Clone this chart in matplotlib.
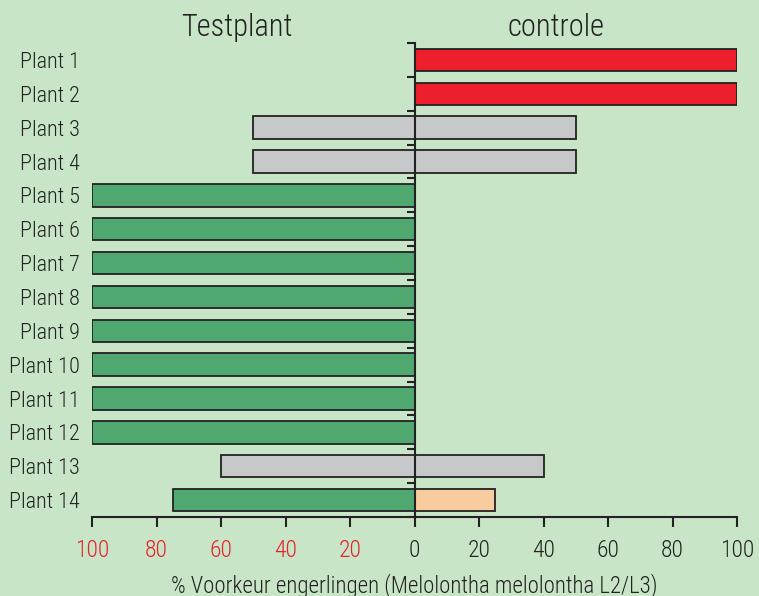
import matplotlib
matplotlib.use("Agg")
import matplotlib.pyplot as plt
from matplotlib.transforms import blended_transform_factory
import numpy as np

categories = [f"Plant {i}" for i in range(1, 15)]
testplant = [0, 0, 50, 50, 100, 100, 100, 100, 100, 100, 100, 100, 60, 75]
controle = [100, 100, 50, 50, 0, 0, 0, 0, 0, 0, 0, 0, 40, 25]
left_colors = ["#ed1f2c", "#ed1f2c", "#c7c8ca", "#c7c8ca"] + ["#4fa86f"] * 8 + ["#c7c8ca", "#4fa86f"]
right_colors = ["#ed1f2c", "#ed1f2c", "#c7c8ca", "#c7c8ca"] + ["#4fa86f"] * 8 + ["#c7c8ca", "#f8cc9f"]
xticks = [-100, -80, -60, -40, -20, 0, 20, 40, 60, 80, 100]
xticklabels = ["100", "80", "60", "40", "20", "0", "20", "40", "60", "80", "100"]

plt.rcParams['font.family'] = ['Roboto Condensed', 'DejaVu Sans']
plt.rcParams['font.weight'] = 'light'
plt.rcParams['axes.labelweight'] = 'light'
BG = "#c9e5c8"
DARK = "#222222"
RED = "#e8202a"

fig = plt.figure(figsize=(7.59, 5.96), dpi=100, facecolor=BG)
rect = [92/759, 1-517/596, (737-92)/759, (517-43)/596]
ax = fig.add_axes(rect)
ax.set_facecolor(BG)

y = np.arange(len(categories))
ax.barh(y, [-v for v in testplant], height=0.66, color=left_colors, edgecolor=DARK, linewidth=1.3, zorder=2)
ax.barh(y, controle, height=0.66, color=right_colors, edgecolor=DARK, linewidth=1.3, zorder=2)

xlim = (-100, 100)
ylim = (len(categories) - 0.5, -0.5)
ax.set_xlim(*xlim)
ax.set_ylim(*ylim)

for s in ["top", "right", "left"]:
    ax.spines[s].set_visible(False)
ax.spines["bottom"].set_color(DARK)
ax.spines["bottom"].set_linewidth(1.5)

ax.set_yticks(y)
ax.set_yticklabels(categories, fontsize=16, color=DARK)
ax.tick_params(axis="y", length=0, pad=9)

ax.set_xticks(xticks)
ax.set_xticklabels(xticklabels, fontsize=17)
ax.tick_params(axis="x", direction="out", length=7, width=1.5, color=DARK, pad=9)
for lbl, v in zip(ax.get_xticklabels(), xticks):
    lbl.set_color(RED if v < 0 else DARK)

# central axis with boundary ticks (overlay axes, not shared)
ax2 = fig.add_axes(rect)
ax2.patch.set_visible(False)
ax2.set_xlim(*xlim)
ax2.set_ylim(*ylim)
for s in ["top", "right", "bottom"]:
    ax2.spines[s].set_visible(False)
ax2.spines["left"].set_position(("data", 0))
ax2.spines["left"].set_color(DARK)
ax2.spines["left"].set_linewidth(1.5)
ax2.yaxis.set_ticks_position("left")
ax2.set_yticks(np.arange(-0.5, len(categories) + 0.5, 1.0))
ax2.tick_params(axis="y", direction="out", length=6, width=1.5, color=DARK, labelleft=False)
ax2.tick_params(axis="x", bottom=False, labelbottom=False)
ax2.set_zorder(3)

ax.set_xlabel("% Voorkeur engerlingen (Melolontha melolontha L2/L3)", fontsize=16.5,
              color=DARK, labelpad=8, fontweight="light")

tr = blended_transform_factory(ax.transData, ax.transAxes)
ax.text(-55, 1.0148, "Testplant", transform=tr, ha="center", va="baseline", fontsize=22, color=DARK)
ax.text(44, 1.0148, "controle", transform=tr, ha="center", va="baseline", fontsize=22, color=DARK)

fig.savefig("out.png", dpi=100, facecolor=BG)
